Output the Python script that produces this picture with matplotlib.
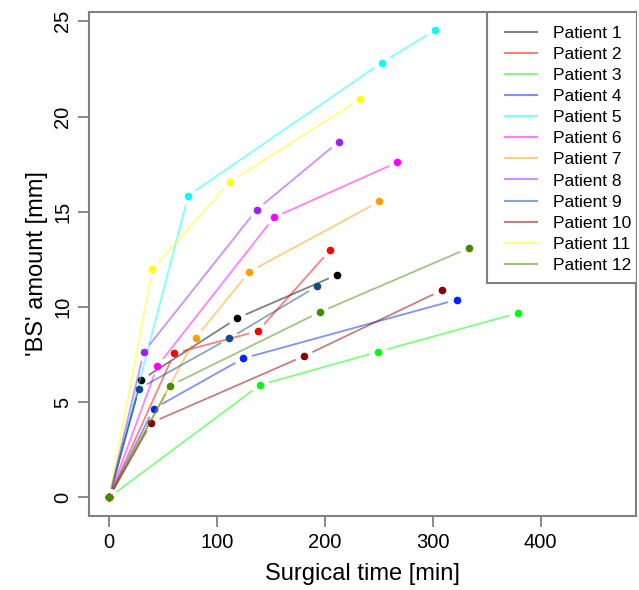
"""Surgical time vs 'BS' amount for 12 patients (R type='b' look)."""

import matplotlib

matplotlib.use("Agg")
import matplotlib.pyplot as plt  # noqa: E402
from matplotlib.lines import Line2D  # noqa: E402
from matplotlib.patches import Rectangle  # noqa: E402

plt.rcParams["font.family"] = ["Liberation Sans", "DejaVu Sans"]

W, H = 639, 590

patients = [f"Patient {i}" for i in range(1, 13)]

# surgical time [min] per patient, starting at 0
times = [
    [0, 29.6, 118.8, 211.4],
    [0, 60.2, 138.0, 204.6],
    [0, 139.8, 249.7, 379.0],
    [0, 41.4, 124.4, 322.2],
    [0, 73.4, 252.8, 302.2],
    [0, 44.8, 152.8, 267.3],
    [0, 80.2, 130.0, 250.6],
    [0, 32.1, 136.7, 212.7],
    [0, 27.5, 111.4, 192.6],
    [0, 39.2, 180.8, 308.3],
    [0, 40.1, 112.0, 232.4],
    [0, 56.5, 195.4, 333.3],
]
# 'BS' amount [mm]
amounts = [
    [0, 6.16, 9.41, 11.69],
    [0, 7.56, 8.73, 12.97],
    [0, 5.90, 7.65, 9.68],
    [0, 4.66, 7.30, 10.38],
    [0, 15.85, 22.83, 24.53],
    [0, 6.90, 14.70, 17.60],
    [0, 8.38, 11.85, 15.54],
    [0, 7.63, 15.10, 18.67],
    [0, 5.70, 8.35, 11.08],
    [0, 3.92, 7.42, 10.87],
    [0, 11.97, 16.57, 20.90],
    [0, 5.86, 9.73, 13.09],
]
colors = [
    "#000000", "#FF0000", "#00FF00", "#0022FF", "#00FFFF", "#FF00FF",
    "#FFA000", "#A020F0", "#104E8B", "#8B0000", "#FFFF00", "#458B00",
]

fig = plt.figure(figsize=(W / 100, H / 100), dpi=100)
ax = fig.add_axes([0.139, 0.1254, 0.857, 0.8546])

for t, a, c in zip(times, amounts, colors):
    # segments with a gap round each point, like R's type="b"
    for i in range(len(t) - 1):
        ax.annotate(
            "",
            xy=(t[i + 1], a[i + 1]),
            xytext=(t[i], a[i]),
            arrowprops=dict(arrowstyle="-", color=c, alpha=0.5, lw=1.3,
                            shrinkA=7, shrinkB=7),
            annotation_clip=False,
        )
    ax.plot(t, a, "o", ls="none", color=c, ms=5.5, mec="none", zorder=3)

ax.set_xlim(-18.8, 488.8)
ax.set_ylim(-0.98, 25.5)
ax.set_xticks([0, 100, 200, 300, 400])
ax.set_yticks([0, 5, 10, 15, 20, 25])
ax.tick_params(axis="both", length=8, width=1.3, color="#808080", labelsize=14.5, pad=4)
for lab in ax.get_yticklabels():
    lab.set_rotation(90)
    lab.set_va("center")
for s in ax.spines.values():
    s.set_color("#808080")
    s.set_linewidth(1.5)

ax.set_xlabel("Surgical time [min]", fontsize=17, labelpad=8)
ax.set_ylabel("'BS' amount [mm]", fontsize=17, labelpad=4)

# R-style legend box: wider left padding than right, so the frame is drawn by hand
box = Rectangle((487 / W, 1 - 283 / H), (636.5 - 487) / W, (283 - 12) / H,
                transform=fig.transFigure, facecolor="white", edgecolor="#808080",
                lw=1.5, zorder=4)
ax.add_patch(box)
handles = [Line2D([], [], color=c, alpha=0.5, lw=1.5) for c in colors]
leg = ax.legend(
    handles, patients, loc="upper right", bbox_to_anchor=(631 / W, 1 - 26 / H),
    bbox_transform=fig.transFigure, fontsize=12.5, borderaxespad=0, borderpad=0,
    frameon=False, handlelength=1.85, handletextpad=0.9, labelspacing=0.34,
)
leg.set_zorder(5)

fig.savefig("out.png", dpi=100)
